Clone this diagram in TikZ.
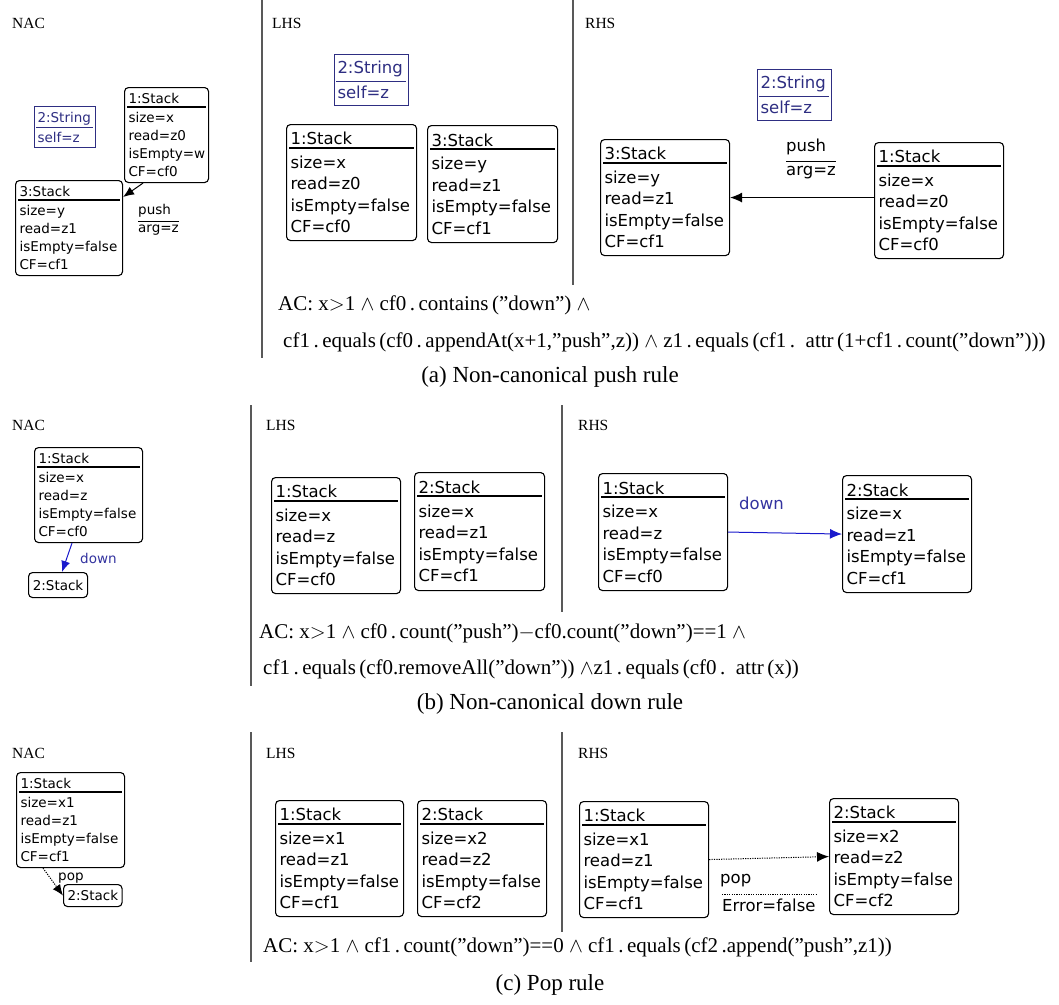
\documentclass[tikz,border=0pt]{standalone}
\usepackage{fontspec}
\setmainfont{Liberation Serif}
\newfontfamily\boxfont{DejaVu Sans}
\usetikzlibrary{arrows.meta}
\definecolor{navy}{HTML}{2E2E82}
\definecolor{arrblue}{HTML}{1A1ACC}
\definecolor{downlbl}{HTML}{3333A0}
\newcommand{\objbox}[8]{%
  \pgfmathsetmacro{\objtw}{#5-8}%
  \node[obj,#1,minimum width=#5pt,minimum height=#6pt,text width=\objtw pt] (#2) at (#3,#4) {#7};
  \draw[sep] ([xshift=3pt,yshift=-#8pt]#2.north west) -- ([xshift=-3pt,yshift=-#8pt]#2.north east);
}
\newcommand{\strobj}[8]{%
  \pgfmathsetmacro{\objtw}{#5-6}%
  \node[strbox,#1,minimum width=#5pt,minimum height=#6pt,text width=\objtw pt] (#2) at (#3,#4) {#7};
  \draw[strsep] ([xshift=2pt,yshift=-#8pt]#2.north west) -- ([xshift=-3pt,yshift=-#8pt]#2.north east);
}
\begin{document}
\begin{tikzpicture}[x=1pt,y=-1pt,
  big/.style={font=\boxfont\fontsize{16.5}{21.5}\selectfont},
  small/.style={font=\boxfont\fontsize{13.5}{18}\selectfont},
  obj/.style={draw, line width=1.1pt, rounded corners=4pt, anchor=north west, inner xsep=4pt, inner ysep=0pt, align=left},
  strbox/.style={draw=navy, line width=1pt, anchor=north west, inner xsep=3pt, inner ysep=0pt, align=left, text=navy},
  sep/.style={line width=1.4pt},
  strsep/.style={line width=1pt, draw=navy},
  lbl/.style={font=\fontsize{15.5}{17}\selectfont, anchor=west, inner sep=0pt},
  actxt/.style={font=\fontsize{21}{24}\selectfont, anchor=west, inner sep=0pt},
  captxt/.style={font=\fontsize{23}{26}\selectfont, inner sep=0pt},
  divider/.style={line width=1.3pt, draw=black!65},
  arr/.style={line width=1pt, -{Latex[length=12pt,width=10pt]}},
  sarr/.style={line width=1pt, -{Latex[length=11pt,width=9pt]}},
  elbl/.style={anchor=west, inner sep=0pt},
]
\useasboundingbox[fill=white] (0,0) rectangle (1059,1004);

% ================= (a) =================
\draw[divider] (262,0) -- (262,358);
\draw[divider] (573,0) -- (573,285);
\node[lbl] (anac) at (12,23) {NAC};
\node[lbl] (alhs) at (272,23) {LHS};
\node[lbl] (arhs) at (585,23) {RHS};

% NAC
\strobj{small}{as1}{34}{106}{61}{41}{2:String\\[2pt]self=z}{21}
\objbox{small}{an1}{124}{87}{84}{95}{1:Stack\\[1pt]size=x\\read=z0\\isEmpty=w\\CF=cf0}{20}
\objbox{small}{an3}{15}{180}{107}{95}{3:Stack\\[1pt]size=y\\read=z1\\isEmpty=false\\CF=cf1}{20}
\draw[sarr] ([xshift=19pt]an1.south west) -- ([yshift=-17pt]an3.north east);
\node[elbl,small] (apush) at (138,211) {push};
\node[elbl,small] (aarg) at (138,230) {arg=z};
\draw[line width=0.9pt] ([yshift=3pt]aarg.north west) -- ([yshift=3pt]aarg.north east);

% LHS
\strobj{big}{as2}{334}{54}{74}{51}{2:String\\[3pt]self=z}{27}
\objbox{big}{al1}{286}{124}{130}{116}{1:Stack\\[2pt]size=x\\read=z0\\isEmpty=false\\CF=cf0}{24}
\objbox{big}{al3}{427}{125}{130}{117}{3:Stack\\[2pt]size=y\\read=z1\\isEmpty=false\\CF=cf1}{24}

% RHS
\strobj{big}{as3}{757}{69}{74}{51}{2:String\\[3pt]self=z}{27}
\objbox{big}{ar3}{600}{139}{129}{116}{3:Stack\\[2pt]size=y\\read=z1\\isEmpty=false\\CF=cf1}{24}
\objbox{big}{ar1}{874}{142}{129}{116}{1:Stack\\[2pt]size=x\\read=z0\\isEmpty=false\\CF=cf0}{24}
\draw[arr] (ar1.west |- ar3.east) -- (ar3.east);
\node[elbl,big] (rpush) at (786,147) {push};
\node[elbl,big] (rarg) at (786,173) {arg=z};
\draw[line width=0.9pt] ([yshift=5pt]rarg.north west) -- ([yshift=5pt]rarg.north east);

\node[actxt] (aac1) at (278,305) {AC: x$>$1 $\wedge$ cf0\,.\,contains\,(”down”) $\wedge$};
\node[actxt] (aac2) at (283,342) {cf1\,.\,equals\,(cf0\,.\,appendAt(x+1,”push”,z)) $\wedge$ z1\,.\,equals\,(cf1\,.\, attr\,(1+cf1\,.\,count(”down”)))};
\node[captxt] (acap) at (550,377) {(a) Non-canonical push rule};

% ================= (b) =================
\draw[divider] (251,405) -- (251,686);
\draw[divider] (562,405) -- (562,612);
\node[lbl] (bnac) at (12,425) {NAC};
\node[lbl] (blhs) at (266,425) {LHS};
\node[lbl] (brhs) at (578,425) {RHS};

% NAC
\objbox{small}{bn1}{34}{447}{108}{95}{1:Stack\\[1pt]size=x\\read=z\\isEmpty=false\\CF=cf0}{20}
\node[obj,small,minimum width=59pt,minimum height=25pt] (bn2) at (28,572) {2:Stack};
\draw[sarr,arrblue] ([xshift=38pt]bn1.south west) -- ([xshift=34pt]bn2.north west);
\node[elbl,small,text=downlbl] (bdown) at (80,558) {down};

% LHS
\objbox{big}{bl1}{271}{477}{129}{116}{1:Stack\\[2pt]size=x\\read=z\\isEmpty=false\\CF=cf0}{24}
\objbox{big}{bl2}{414}{472}{130}{118}{2:Stack\\[2pt]size=x\\read=z1\\isEmpty=false\\CF=cf1}{24}

% RHS
\objbox{big}{br1}{598}{473}{129}{117}{1:Stack\\[2pt]size=x\\read=z\\isEmpty=false\\CF=cf0}{24}
\objbox{big}{br2}{842}{475}{129}{117}{2:Stack\\[2pt]size=x\\read=z1\\isEmpty=false\\CF=cf1}{24}
\draw[arr,arrblue] (br1.east) -- (br2.west);
\node[elbl,big,text=downlbl] (rdown) at (739,503) {down};

\node[actxt] (bac1) at (259,633) {AC: x$>$1 $\wedge$ cf0\,.\,count(”push”)$-$cf0.count(”down”)==1 $\wedge$};
\node[actxt] (bac2) at (263,669) {cf1\,.\,equals\,(cf0.removeAll(”down”)) $\wedge$z1\,.\,equals\,(cf0\,.\, attr\,(x))};
\node[captxt] (bcap) at (550,704) {(b) Non-canonical down rule};

% ================= (c) =================
\draw[divider] (251,732) -- (251,962);
\draw[divider] (562,732) -- (562,932);
\node[lbl] (cnac) at (12,753) {NAC};
\node[lbl] (clhs) at (266,753) {LHS};
\node[lbl] (crhs) at (578,753) {RHS};

% NAC
\objbox{small}{cn1}{16}{772}{108}{95}{1:Stack\\[1pt]size=x1\\read=z1\\isEmpty=false\\CF=cf1}{20}
\node[obj,small,minimum width=57pt,minimum height=22pt] (cn2) at (63,884) {2:Stack};
\draw[sarr,dash pattern=on 1.2pt off 1.2pt] ([xshift=27pt]cn1.south west) -- (cn2.west);
\node[elbl,small] (cpopn) at (58,878) {pop};

% LHS
\objbox{big}{cl1}{275}{800}{128}{116}{1:Stack\\[2pt]size=x1\\read=z1\\isEmpty=false\\CF=cf1}{24}
\objbox{big}{cl2}{417}{800}{129}{116}{2:Stack\\[2pt]size=x2\\read=z2\\isEmpty=false\\CF=cf2}{24}

% RHS
\objbox{big}{cr1}{579}{801}{129}{116}{1:Stack\\[2pt]size=x1\\read=z1\\isEmpty=false\\CF=cf1}{24}
\objbox{big}{cr2}{829}{798}{129}{116}{2:Stack\\[2pt]size=x2\\read=z2\\isEmpty=false\\CF=cf2}{24}
\draw[arr,dash pattern=on 1.2pt off 1.2pt] (cr1.east) -- (cr2.west);
\node[elbl,big] (cpop) at (720,881) {pop};
\node[elbl,big] (cerr) at (722,905) {Error=false};
\draw[line width=0.9pt,dash pattern=on 1.2pt off 1.2pt] ([yshift=4pt]cerr.north west) -- ([yshift=4pt]cerr.north east);

\node[actxt] (cac) at (263,947) {AC: x$>$1 $\wedge$ cf1\,.\,count(”down”)==0 $\wedge$ cf1\,.\,equals\,(cf2\,.append(”push”,z1))};
\node[captxt] (ccap) at (550,985) {(c) Pop rule};
\end{tikzpicture}
\end{document}
